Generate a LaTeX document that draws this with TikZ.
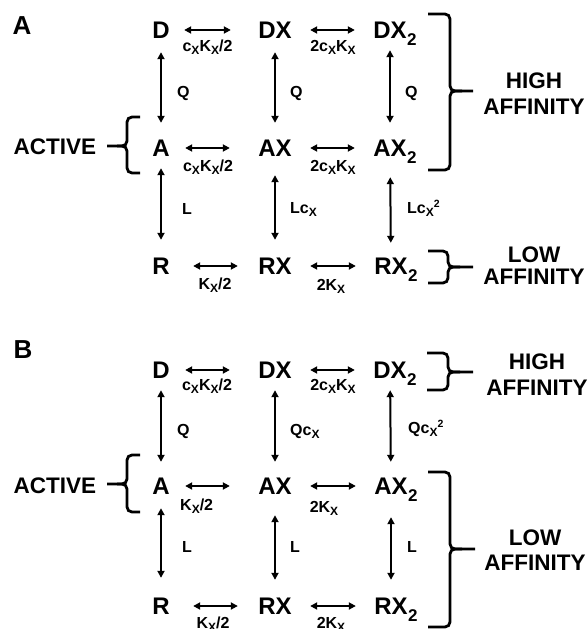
\documentclass[tikz,border=0pt]{standalone}
\usepackage{fontspec}
\setmainfont{Liberation Sans}
\usetikzlibrary{arrows.meta}
% subscript X, superscript 2 and species subscript 2
\newcommand{\subX}{\raisebox{-3.2pt}{\fontsize{12}{12}\selectfont X}}
\newcommand{\supTwo}{\raisebox{6pt}{\fontsize{10.5}{10.5}\selectfont 2}}
\newcommand{\subTwo}{\rlap{\kern0.5pt\raisebox{-7pt}{\fontsize{17}{17}\selectfont 2}}}

\begin{document}
\begin{tikzpicture}[x=1pt,y=-1pt,
  species/.style={font=\fontsize{24}{24}\selectfont\bfseries, inner sep=0pt,
                  text height=17.2pt, text depth=0pt},
  rate/.style={font=\fontsize{16}{16}\selectfont\bfseries, inner sep=0pt, anchor=base},
  ratev/.style={font=\fontsize{16}{16}\selectfont\bfseries, inner sep=0pt, anchor=base west},
  side/.style={font=\fontsize{22.5}{22.5}\selectfont\bfseries, inner sep=0pt,
               text height=16pt, text depth=0pt},
  panel/.style={font=\fontsize{26}{26}\selectfont\bfseries, inner sep=0pt,
                text height=18.6pt, text depth=0pt},
  rev/.style={line width=2pt,
              {Triangle[length=7pt,width=7pt]}-{Triangle[length=7pt,width=7pt]}},
  brace/.style={line width=2.8pt, rounded corners=5pt},
]
\useasboundingbox (0,0) rectangle (588,629);

% ---------------- panel A ----------------
\node[panel] (pA) at (22,25) {A};

\node[species] (aD)   at (161,30)  {D};
\node[species] (aDX)  at (275,30)  {DX};
\node[species] (aDX2) at (390,30)  {DX\subTwo};
\node[species] (aA)   at (161,148) {A};
\node[species] (aAX)  at (275,148) {AX};
\node[species] (aAX2) at (390,148) {AX\subTwo};
\node[species] (aR)   at (161,266) {R};
\node[species] (aRX)  at (275,266) {RX};
\node[species] (aRX2) at (391,266) {RX\subTwo};

\draw[rev, shorten <=14.3pt, shorten >=27.3pt] (aD) -- (aDX);
\draw[rev, shorten <=18.3pt, shorten >=18.3pt] (aDX) -- (aDX2);
\draw[rev, shorten <=15.3pt, shorten >=28.3pt] (aA) -- (aAX);
\draw[rev, shorten <=18.3pt, shorten >=18.3pt] (aAX) -- (aAX2);
\draw[rev, shorten <=23.3pt, shorten >=20.3pt] (aR) -- (aRX);
\draw[rev, shorten <=18.3pt, shorten >=18.3pt] (aRX) -- (aRX2);

\draw[rev, shorten <=13.4pt, shorten >=16.4pt] (aD) -- (aA);
\draw[rev, shorten <=13.4pt, shorten >=16.4pt] (aDX) -- (aAX);
\draw[rev, shorten <=11.4pt, shorten >=16.4pt] (aDX2) -- (aAX2);
\draw[rev, shorten <=11.4pt, shorten >=17.4pt] (aA) -- (aR);
\draw[rev, shorten <=18.4pt, shorten >=17.4pt] (aAX) -- (aRX);
\draw[rev, shorten <=20.4pt, shorten >=14.4pt] (aAX2) -- (aRX2);

\node[rate] (ak1) at (207.5,51.5) {c\subX K\subX/2};
\node[rate] (ak2) at (333,51.5)   {2c\subX K\subX};
\node[rate] (ak3) at (208,171)    {c\subX K\subX/2};
\node[rate] (ak4) at (333,171)    {2c\subX K\subX};
\node[rate] (ak5) at (215,289)    {K\subX/2};
\node[rate] (ak6) at (331,290)    {2K\subX};

\node[ratev] (aq1) at (177,97)  {Q};
\node[ratev] (aq2) at (290,97)  {Q};
\node[ratev] (aq3) at (405,97)  {Q};
\node[ratev] (al1) at (182,214) {L};
\node[ratev] (al2) at (290,213) {Lc\subX};
\node[ratev] (al3) at (407,213) {Lc\subX\supTwo};

\node[side] (aact) at (55,146) {ACTIVE};
\draw[brace] (140,117) -- (127,117) -- (127,146) -- (107,146);
\draw[brace] (140,173) -- (127,173) -- (127,146) -- (117,146);

\node[side] (ahigh) at (534,80)  {HIGH};
\node[side] (ahaff) at (534,106) {AFFINITY};
\draw[brace] (428,14) -- (450,14) -- (450,91) -- (473,91);
\draw[brace] (428,170) -- (450,170) -- (450,91) -- (462,91);

\node[side] (alow)  at (534,254) {LOW};
\node[side] (alaff) at (534,276) {AFFINITY};
\draw[brace] (428,251) -- (448,251) -- (448,267) -- (473,267);
\draw[brace] (428,283) -- (448,283) -- (448,267) -- (460,267);

% ---------------- panel B ----------------
\node[panel] (pB) at (23,349) {B};

\node[species] (bD)   at (161,370) {D};
\node[species] (bDX)  at (275,370) {DX};
\node[species] (bDX2) at (390,370) {DX\subTwo};
\node[species] (bA)   at (161,486) {A};
\node[species] (bAX)  at (275,486) {AX};
\node[species] (bAX2) at (391,486) {AX\subTwo};
\node[species] (bR)   at (161,606) {R};
\node[species] (bRX)  at (275,606) {RX};
\node[species] (bRX2) at (391,606) {RX\subTwo};

\draw[rev, shorten <=15.3pt, shorten >=28.3pt] (bD) -- (bDX);
\draw[rev, shorten <=18.3pt, shorten >=18.3pt] (bDX) -- (bDX2);
\draw[rev, shorten <=15.3pt, shorten >=28.3pt] (bA) -- (bAX);
\draw[rev, shorten <=18.3pt, shorten >=18.3pt] (bAX) -- (bAX2);
\draw[rev, shorten <=23.3pt, shorten >=20.3pt] (bR) -- (bRX);
\draw[rev, shorten <=18.3pt, shorten >=18.3pt] (bRX) -- (bRX2);

\draw[rev, shorten <=11.4pt, shorten >=15.4pt] (bD) -- (bA);
\draw[rev, shorten <=11.4pt, shorten >=15.4pt] (bDX) -- (bAX);
\draw[rev, shorten <=11.4pt, shorten >=15.4pt] (bDX2) -- (bAX2);
\draw[rev, shorten <=13.4pt, shorten >=19.4pt] (bA) -- (bR);
\draw[rev, shorten <=20.4pt, shorten >=17.4pt] (bAX) -- (bRX);
\draw[rev, shorten <=22.4pt, shorten >=17.4pt] (bAX2) -- (bRX2);

\node[rate]  (bk1) at (207,390) {c\subX K\subX/2};
\node[rate]  (bk2) at (333,390) {2c\subX K\subX};
\node[ratev] (bk3) at (180,510) {K\subX/2};
\node[rate]  (bk4) at (324,512) {2K\subX};
\node[rate]  (bk5) at (213,628) {K\subX/2};
\node[rate]  (bk6) at (331,628) {2K\subX};

\node[ratev] (bq1) at (177,435) {Q};
\node[ratev] (bq2) at (290,435) {Qc\subX};
\node[ratev] (bq3) at (408,433) {Qc\subX\supTwo};
\node[ratev] (bl1) at (182,552) {L};
\node[ratev] (bl2) at (290,552) {L};
\node[ratev] (bl3) at (407,552) {L};

\node[side] (bact) at (55,485) {ACTIVE};
\draw[brace] (140,455) -- (127,455) -- (127,484) -- (107,484);
\draw[brace] (140,512) -- (127,512) -- (127,484) -- (117,484);

\node[side] (bhigh) at (537,361) {HIGH};
\node[side] (bhaff) at (537,387) {AFFINITY};
\draw[brace] (427,353) -- (448,353) -- (448,372) -- (473,372);
\draw[brace] (427,390) -- (448,390) -- (448,372) -- (460,372);

\node[side] (blow)  at (535,537) {LOW};
\node[side] (blaff) at (535,562) {AFFINITY};
\draw[brace] (428,472) -- (450,472) -- (450,549) -- (475,549);
\draw[brace] (428,627) -- (450,627) -- (450,549) -- (462,549);
\end{tikzpicture}
\end{document}
